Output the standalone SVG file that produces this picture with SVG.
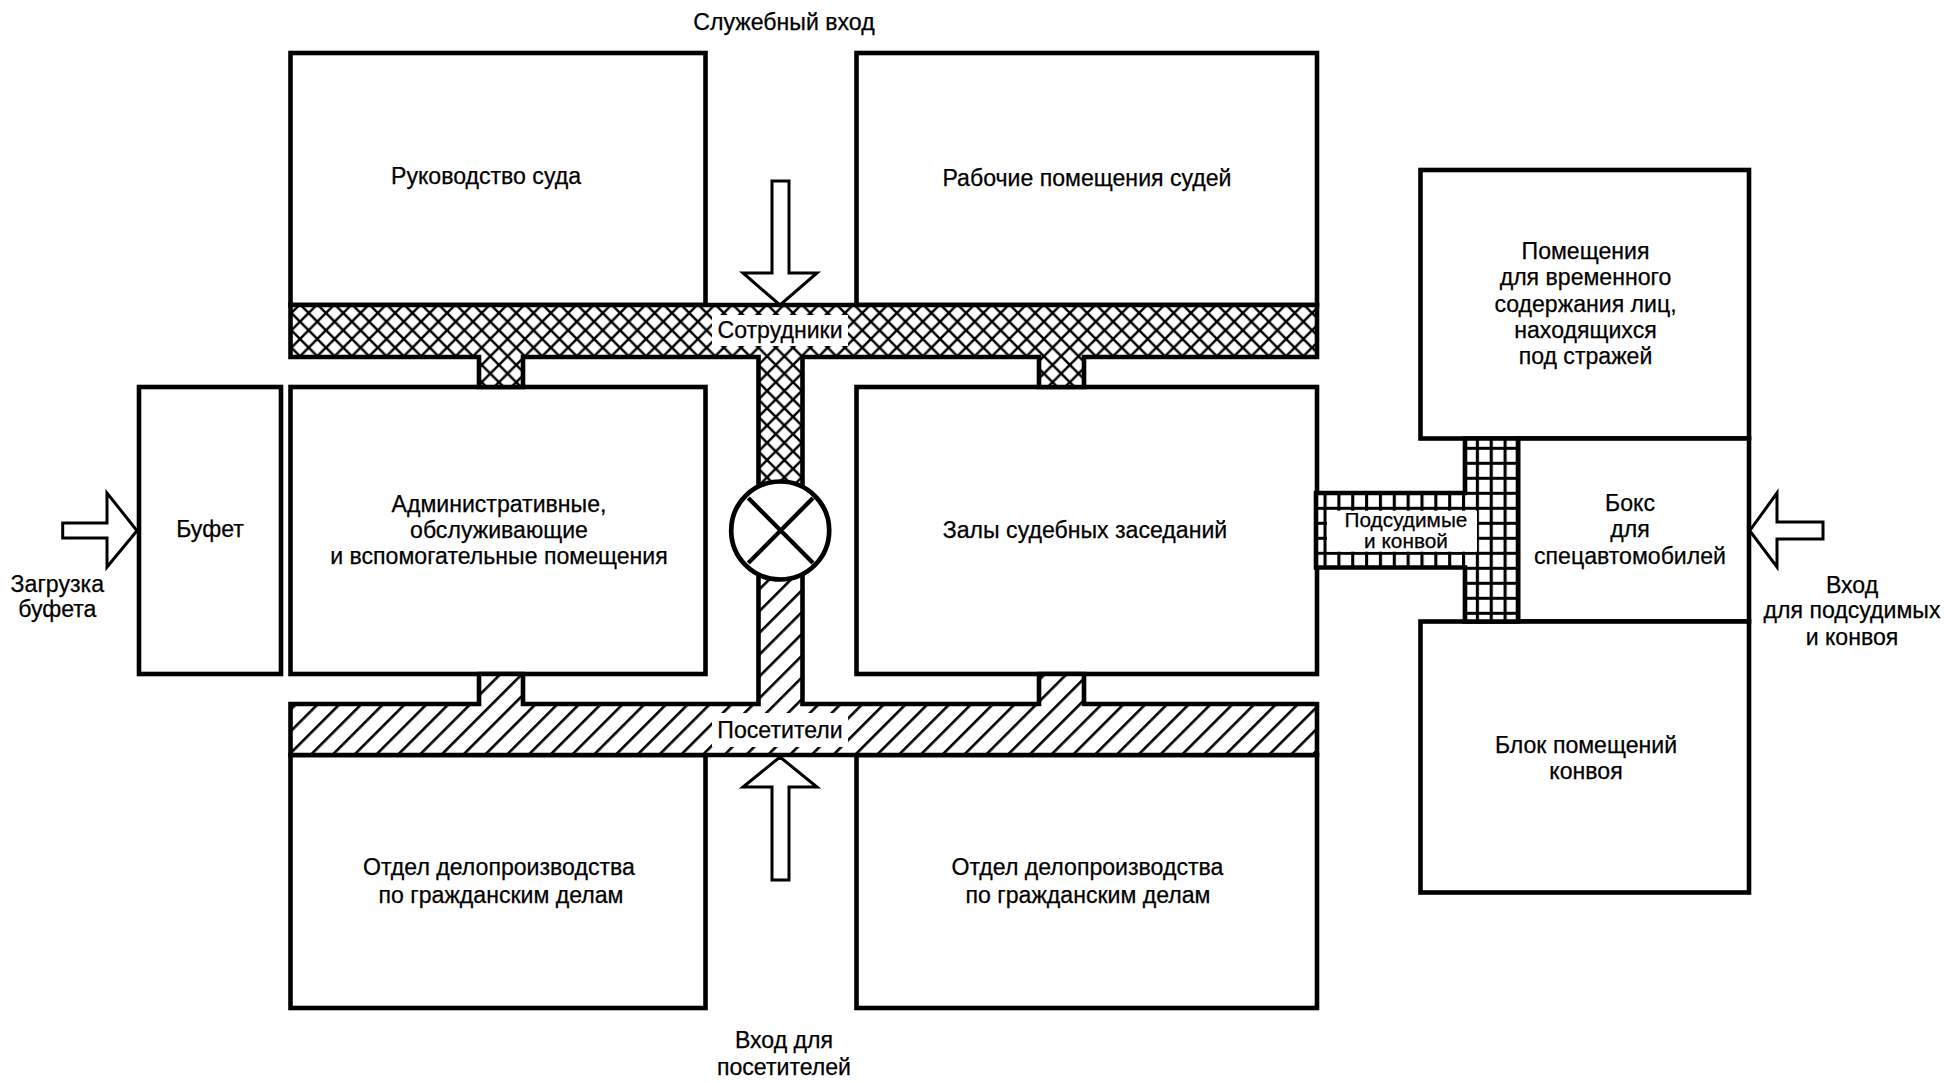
<svg xmlns="http://www.w3.org/2000/svg" width="1944" height="1083" viewBox="0 0 1944 1083">
<style>
.b{fill:#fff;stroke:#000;stroke-width:4.6}
.a{fill:#fff;stroke:#000;stroke-width:3;stroke-linejoin:miter}
.c{stroke:#000;stroke-width:4.6;stroke-linejoin:miter}
text{font-family:"Liberation Sans",Arial,sans-serif;font-size:23.100px;fill:#000;stroke:#000;stroke-width:.25;text-anchor:middle}
.s{font-size:20.800px}
</style>
<defs>
<pattern id="cross" width="17.300" height="17.300" patternUnits="userSpaceOnUse" patternTransform="translate(308.650 313)">
<rect width="17.300" height="17.300" fill="#fff"/>
<path d="M-2-2L19.300 19.300M-2 19.300L19.300-2" stroke="#000" stroke-width="2.500" fill="none"/>
</pattern>
<pattern id="hatch" width="15.400" height="15.400" patternUnits="userSpaceOnUse" patternTransform="translate(18.300 0) rotate(45)">
<rect width="15.400" height="15.400" fill="#fff"/>
<rect width="2.600" height="15.400" fill="#000"/>
</pattern>
<pattern id="grid" width="13.850" height="15" patternUnits="userSpaceOnUse" patternTransform="translate(1323.500 506.800)">
<rect width="13.850" height="15" fill="#fff"/>
<path d="M0 0H13.850M0 0V15" stroke="#000" stroke-width="6.200" fill="none"/>
</pattern>
</defs>
<rect width="1944" height="1083" fill="#fff"/>
<g id="node-rukovodstvo"><rect class="b" x="290.500" y="53" width="415" height="252"/><text x="486" y="184">Руководство суда</text></g>
<g id="node-rabochie"><rect class="b" x="856.500" y="53" width="460.500" height="252"/><text x="1087" y="186">Рабочие помещения судей</text></g>
<g id="node-admin"><rect class="b" x="290.500" y="387" width="415" height="287"/><text x="499" y="512">Административные,</text><text x="499" y="537.500">обслуживающие</text><text x="499" y="563.500">и вспомогательные помещения</text></g>
<g id="node-zaly"><rect class="b" x="856.500" y="387" width="460.500" height="287"/><text x="1085" y="537.500">Залы судебных заседаний</text></g>
<g id="node-bufet"><rect class="b" x="139" y="387" width="142" height="287"/><text x="210" y="537">Буфет</text></g>
<g id="node-otdel-1"><rect class="b" x="290.500" y="755" width="415" height="253"/><text x="499" y="875">Отдел делопроизводства</text><text x="501" y="902.500">по гражданским делам</text></g>
<g id="node-otdel-2"><rect class="b" x="856.500" y="755" width="460.500" height="253"/><text x="1087.500" y="875">Отдел делопроизводства</text><text x="1088" y="902.500">по гражданским делам</text></g>
<g id="node-pomeshcheniya"><rect class="b" x="1420.500" y="170" width="328.500" height="268.500"/><text x="1585.500" y="258.500">Помещения</text><text x="1585.500" y="285">для временного</text><text x="1585.500" y="312">содержания лиц,</text><text x="1585.500" y="338">находящихся</text><text x="1585.500" y="364">под стражей</text></g>
<g id="node-boks"><rect class="b" x="1518" y="438.500" width="231" height="183"/><text x="1630" y="511.200">Бокс</text><text x="1630" y="536.700">для</text><text x="1630" y="563.500">спецавтомобилей</text></g>
<g id="node-blok"><rect class="b" x="1420.500" y="621.500" width="328.500" height="271"/><text x="1586" y="752.500">Блок помещений</text><text x="1586" y="779">конвоя</text></g>
<g id="connectors">
<path class="c" fill="url(#cross)" d="M290.500 305H1317V357H1084V387H1039V357H802.500V500H758.500V357H523V387H479V357H290.500Z"/>
<path class="c" fill="url(#hatch)" d="M290.500 755H1317V704H1084V674H1039V704H802.500V560H758.500V704H523V674H479V704H290.500Z"/>
<path class="c" fill="url(#grid)" d="M1316 493H1465V438.500H1518V621.500H1465V567.500H1316Z"/>
<rect x="712" y="315" width="136" height="31" fill="#fff"/>
<rect x="712" y="713" width="136" height="34" fill="#fff"/>
<rect x="1327" y="510.700" width="150" height="41" fill="#fff"/>
<path class="a" d="M772 181H789V273H817L780 305L743 273H772Z"/>
<path class="a" d="M772 880H789V787H817L780 757L743 787H772Z"/>
<path class="a" d="M62.700 523H107V493L137 530.700L107 567V538H62.700Z"/>
<path class="a" d="M1823 522H1777V493L1749.700 530.700L1777 567V539H1823Z"/>
</g>
<g id="node-switch"><circle cx="780.200" cy="530.500" r="49" fill="#fff" stroke="#000" stroke-width="4.700"/><path d="M748.300 498L813 563M813 498L748.300 563" stroke="#000" stroke-width="4.300" fill="none"/></g>
<g id="labels">
<text x="784" y="30">Служебный вход</text>
<text x="780" y="338">Сотрудники</text>
<text x="780" y="738">Посетители</text>
<text class="s" x="1406" y="527">Подсудимые</text>
<text class="s" x="1406" y="548">и конвой</text>
<text x="57.300" y="592.200">Загрузка</text>
<text x="57.300" y="617">буфета</text>
<text x="1852" y="592.500">Вход</text>
<text x="1852" y="618">для подсудимых</text>
<text x="1852" y="644.500">и конвоя</text>
<text x="784" y="1048">Вход для</text>
<text x="784" y="1075">посетителей</text>
</g>
</svg>
